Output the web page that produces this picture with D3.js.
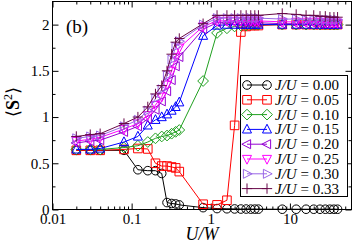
<!DOCTYPE html>
<html>
<head>
<meta charset="utf-8">
<script src="https://cdn.jsdelivr.net/npm/d3@7"></script>
<style>
body { margin: 0; background: #fff; }
text { font-family: "Liberation Serif", "Times New Roman", serif; }
</style>
</head>
<body>
<script>
// U/W grid
const uw = [0.02, 0.03, 0.04, 0.08, 0.12, 0.16, 0.2, 0.24, 0.28, 0.32, 0.36, 0.4,
            0.8, 1.2, 1.6, 2, 2.4, 2.8, 3.2, 3.6, 4,
            8, 12, 16, 20, 24, 28, 32, 36, 40];

const jLabels = ["0.00", "0.05", "0.10", "0.15", "0.20", "0.25", "0.30", "0.33"];

// <S^2> for each J/U
const s000 = [0.64, 0.64, 0.64, 0.64, 0.43, 0.42, 0.42, 0.39, 0.075, 0.065, 0.06, 0.05,
              0.02, 0.01, 0.008, 0.006, 0.005, 0.005, 0.004, 0.004, 0.004,
              0.003, 0.003, 0.003, 0.003, 0.003, 0.003, 0.003, 0.003, 0.003];
const s005 = [0.64, 0.64, 0.64, 0.65, 0.66, 0.655, 0.5, 0.47, 0.47, 0.46, 0.45, 0.41,
              0.057, 0.05, 0.1, 0.91, 1.92, 1.98, 1.99, 1.99, 1.99,
              2.0, 2.0, 2.0, 2.0, 2.0, 2.0, 2.0, 2.0, 2.0];
const s010 = [0.65, 0.65, 0.65, 0.67, 0.69, 0.73, 0.77, 0.79, 0.8, 0.82, 0.84, 0.86,
              1.39, 1.91, 1.96, 1.98, 1.99, 1.99, 2.0, 2.0, 2.0,
              2.0, 2.0, 2.0, 2.0, 2.0, 2.0, 2.0, 2.0, 2.0];
const s015 = [0.65, 0.65, 0.66, 0.73, 0.79, 0.91, 0.97, 1.0, 1.03, 1.07, 1.11, 1.16,
              1.88, 1.99, 2.0, 2.0, 2.0, 2.0, 2.0, 2.0, 2.0,
              2.0, 2.0, 2.0, 2.0, 2.0, 2.0, 2.0, 2.0, 2.0];
const s020 = [0.72, 0.74, 0.75, 0.84, 0.9, 0.98, 1.08, 1.17, 1.28, 1.4, 1.55, 1.65,
              1.95, 2.02, 2.02, 2.02, 2.02, 2.02, 2.02, 2.02, 2.02,
              2.01, 2.01, 2.01, 2.01, 2.01, 2.01, 2.01, 2.01, 2.01];
const s025 = [0.74, 0.76, 0.78, 0.87, 0.93, 1.02, 1.13, 1.22, 1.35, 1.5, 1.65, 1.75,
              1.98, 2.04, 2.04, 2.04, 2.04, 2.04, 2.04, 2.04, 2.04,
              2.03, 2.03, 2.03, 2.03, 2.03, 2.02, 2.02, 2.02, 2.02];
const s030 = [0.77, 0.79, 0.8, 0.9, 0.97, 1.07, 1.2, 1.3, 1.45, 1.62, 1.76, 1.82,
              2.0, 2.07, 2.07, 2.07, 2.07, 2.07, 2.07, 2.07, 2.07,
              2.06, 2.06, 2.05, 2.05, 2.05, 2.05, 2.05, 2.05, 2.05];
const s033 = [0.79, 0.81, 0.82, 0.93, 1.0, 1.11, 1.25, 1.34, 1.5, 1.68, 1.81, 1.85,
              2.01, 2.1, 2.1, 2.1, 2.1, 2.1, 2.1, 2.1, 2.1,
              2.12, 2.11, 2.1, 2.1, 2.09, 2.09, 2.08, 2.08, 2.08];

const xTicks = [0.01, 0.1, 1, 10];
const yTicks = [0, 0.5, 1, 1.5, 2];

const allSeries = [s000, s005, s010, s015, s020, s025, s030, s033];
const colors = ["#000000", "#ff0000", "#20a020", "#0000ff", "#9400d3", "#ff00ff", "#9966e6", "#670748"];
const shapes = ["circle", "square", "diamond", "up", "left", "down", "right", "plus"];

const W = 353, H = 244;
const L = 52.5, R = 351.5, T = 1.5, B = 209.5;

const svg = d3.select("body").append("svg")
  .attr("width", W).attr("height", H);

const x = d3.scaleLog().domain([0.01, 60]).range([L, R]);
const y = d3.scaleLinear().domain([0, 2.25]).range([B, T]);

// minor ticks
const xMinor = [];
for (const d of [0.01, 0.1, 1, 10]) for (let k = 2; k <= 9; k++) if (d * k < 60) xMinor.push(d * k);
const yMinor = d3.range(0.25, 2.25, 0.5);

function shapePath(type, r) {
  const p = d3.path();
  if (type === "circle") { p.arc(0, 0, r, 0, 2 * Math.PI); }
  else if (type === "square") { p.rect(-r, -r, 2 * r, 2 * r); }
  else if (type === "diamond") { const a = r * 1.25; p.moveTo(0, -a); p.lineTo(a, 0); p.lineTo(0, a); p.lineTo(-a, 0); p.closePath(); }
  else if (type === "plus") { const a = r * 1.2; p.moveTo(-a, 0); p.lineTo(a, 0); p.moveTo(0, -a); p.lineTo(0, a); }
  else {
    const a = r * 1.2, b = r * 1.05;
    const pts = { up: [[0, -a], [b, a * 0.7], [-b, a * 0.7]],
                  down: [[0, a], [b, -a * 0.7], [-b, -a * 0.7]],
                  left: [[-a, 0], [a * 0.7, -b], [a * 0.7, b]],
                  right: [[a, 0], [-a * 0.7, -b], [-a * 0.7, b]] }[type];
    p.moveTo(pts[0][0], pts[0][1]); p.lineTo(pts[1][0], pts[1][1]); p.lineTo(pts[2][0], pts[2][1]); p.closePath();
  }
  return p.toString();
}

// axes (inward ticks, mirrored)
function styleAxis(g) {
  g.select(".domain").remove();
  g.selectAll("line").attr("stroke", "#000");
  g.selectAll("text").attr("font-size", 15).attr("fill", "#000")
    .attr("font-family", "Liberation Serif, serif");
}
svg.append("g").attr("transform", `translate(0,${B})`)
  .call(d3.axisBottom(x).tickValues(xTicks).tickFormat(d3.format("~g")).tickSize(-6).tickPadding(4)).call(styleAxis);
svg.append("g").attr("transform", `translate(0,${B})`)
  .call(d3.axisBottom(x).tickValues(xMinor).tickFormat("").tickSize(-3)).call(styleAxis);
svg.append("g").attr("transform", `translate(0,${T})`)
  .call(d3.axisTop(x).tickValues(xTicks).tickFormat("").tickSize(-6)).call(styleAxis);
svg.append("g").attr("transform", `translate(0,${T})`)
  .call(d3.axisTop(x).tickValues(xMinor).tickFormat("").tickSize(-3)).call(styleAxis);
svg.append("g").attr("transform", `translate(${L},0)`)
  .call(d3.axisLeft(y).tickValues(yTicks).tickFormat(d3.format("~g")).tickSize(-6).tickPadding(3)).call(styleAxis);
svg.append("g").attr("transform", `translate(${L},0)`)
  .call(d3.axisLeft(y).tickValues(yMinor).tickFormat("").tickSize(-3)).call(styleAxis);
svg.append("g").attr("transform", `translate(${R},0)`)
  .call(d3.axisRight(y).tickValues(yTicks).tickFormat("").tickSize(-6)).call(styleAxis);
svg.append("g").attr("transform", `translate(${R},0)`)
  .call(d3.axisRight(y).tickValues(yMinor).tickFormat("").tickSize(-3)).call(styleAxis);

// series
const line = d3.line().x(d => x(d[0])).y(d => y(d[1]));
allSeries.forEach(function(vals, i) {
  const pts = uw.map((u, k) => [u, vals[k]]);
  const g = svg.append("g");
  g.append("path").attr("d", line(pts))
    .attr("fill", "none").attr("stroke", colors[i]).attr("stroke-width", 1);
  g.selectAll("path.sym").data(pts).join("path").attr("class", "sym")
    .attr("transform", d => `translate(${x(d[0])},${y(d[1])})`)
    .attr("d", shapePath(shapes[i], 4.3))
    .attr("fill", "none").attr("stroke", colors[i]).attr("stroke-width", 1);
});

// frame
svg.append("rect").attr("x", L).attr("y", T).attr("width", R - L).attr("height", B - T)
  .attr("fill", "none").attr("stroke", "#000");

// legend
const lg = svg.append("g");
lg.append("rect").attr("x", 240.5).attr("y", 75.5).attr("width", 107).attr("height", 121)
  .attr("fill", "#fff").attr("stroke", "#000");
jLabels.forEach(function(lab, i) {
  const cy = 85 + i * 14.8;
  lg.append("line").attr("x1", 247).attr("x2", 267).attr("y1", cy).attr("y2", cy)
    .attr("stroke", colors[i]);
  [247, 267].forEach(cx => lg.append("path")
    .attr("transform", `translate(${cx},${cy})`)
    .attr("d", shapePath(shapes[i], 4.3))
    .attr("fill", "none").attr("stroke", colors[i]));
  const t = lg.append("text").attr("x", 275).attr("y", cy + 5).attr("font-size", 15);
  t.append("tspan").attr("font-style", "italic").text("J/U");
  t.append("tspan").text(" = " + lab);
});

// labels
svg.append("text").attr("x", 66).attr("y", 33).attr("font-size", 19).text("(b)");
svg.append("text").attr("x", (L + R) / 2).attr("y", 239.5).attr("text-anchor", "middle")
  .attr("font-size", 18).attr("font-style", "italic").text("U/W");
const yl = svg.append("text").attr("transform", "translate(19,102) rotate(-90)")
  .attr("text-anchor", "middle").attr("font-size", 18);
yl.append("tspan").text("\u27E8");
yl.append("tspan").attr("font-weight", "bold").text("S");
yl.append("tspan").attr("dy", -7).attr("font-size", 12).text("2");
yl.append("tspan").attr("dy", 7).text("\u27E9");
</script>
</body>
</html>
